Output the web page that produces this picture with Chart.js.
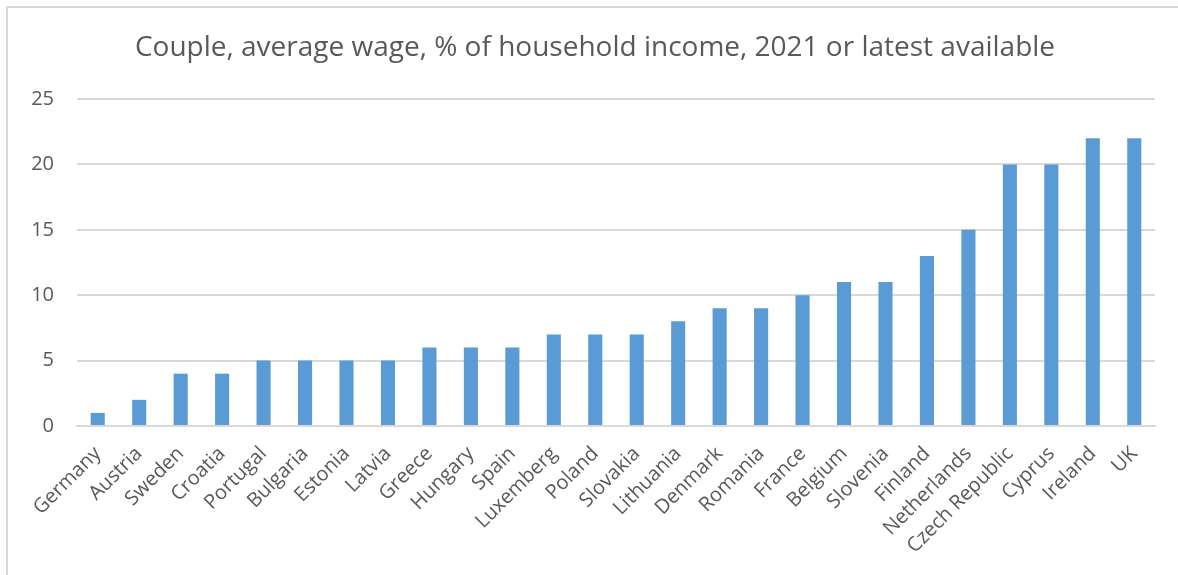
<!DOCTYPE html>
<html lang="en">

<head>
    <meta charset="UTF-8">
    <title>Couple, average wage</title>
    <style>
        body { margin: 0; background: #fff; }
        #wrap { position: relative; width: 1178px; height: 575px; overflow: hidden; }
        #frame { position: absolute; left: 6px; top: 6px; width: 1300px; height: 700px;
                 border-top: 2px solid #d9d9d9; border-left: 2px solid #d9d9d9; }
        #myChart { position: absolute; left: 0; top: 0; }
        #titulo { position: absolute; left: 0; top: 26px; width: 1190px; text-align: center;
                  font-family: 'Open Sans'; font-size: 28px; color: #595959; white-space: nowrap; }
    </style>
</head>

<body>
    <div id="wrap">
        <div id="frame"></div>
        <canvas id="myChart" width="1178" height="575"></canvas>
        <div id="titulo"></div>
    </div>

    <script src="https://cdn.jsdelivr.net/npm/chart.js"></script>

    <script>
        // datos
        const countries = ['Germany', 'Austria', 'Sweden', 'Croatia', 'Portugal', 'Bulgaria', 'Estonia', 'Latvia',
            'Greece', 'Hungary', 'Spain', 'Luxemberg', 'Poland', 'Slovakia', 'Lithuania', 'Denmark', 'Romania',
            'France', 'Belgium', 'Slovenia', 'Finland', 'Netherlands', 'Czech Republic', 'Cyprus', 'Ireland', 'UK']
        const values = [1, 2, 4, 4, 5, 5, 5, 5, 6, 6, 6, 7, 7, 7, 8, 9, 9, 10, 11, 11, 13, 15, 20, 20, 22, 22]
        const yTicks = [0, 5, 10, 15, 20, 25]
        const title = 'Couple, average wage, % of household income, 2021 or latest available'

        const grey = '#595959'
        document.getElementById('titulo').innerText = title
        const ctx = document.getElementById('myChart')

        new Chart(ctx, {
            type: 'bar',
            data: {
                labels: countries,
                datasets: [{
                    data: values,
                    backgroundColor: '#5b9bd5',
                    barPercentage: 0.34,
                    categoryPercentage: 1
                }]
            },
            options: {
                responsive: false,
                animation: false,
                layout: { padding: { left: 0, right: 23, top: 99, bottom: 0 } },
                plugins: {
                    legend: { display: false },
                    tooltip: { enabled: false }
                },
                scales: {
                    x: {
                        grid: { display: false },
                        border: { color: '#d9d9d9', width: 2 },
                        ticks: {
                            color: grey,
                            font: { family: 'Open Sans', size: 20 },
                            minRotation: 45,
                            maxRotation: 45,
                            autoSkip: false,
                            padding: 8
                        },
                        afterFit: (axis) => { axis.height = 149 }
                    },
                    y: {
                        min: 0,
                        max: 25,
                        afterBuildTicks: (axis) => { axis.ticks = yTicks.map(v => ({ value: v })) },
                        grid: { color: '#d9d9d9', lineWidth: 2, drawTicks: false },
                        border: { display: false },
                        ticks: {
                            color: grey,
                            font: { family: 'Open Sans', size: 20 },
                            padding: 23
                        },
                        afterFit: (axis) => { axis.width = 77 }
                    }
                }
            }
        })
    </script>

</body>

</html>
